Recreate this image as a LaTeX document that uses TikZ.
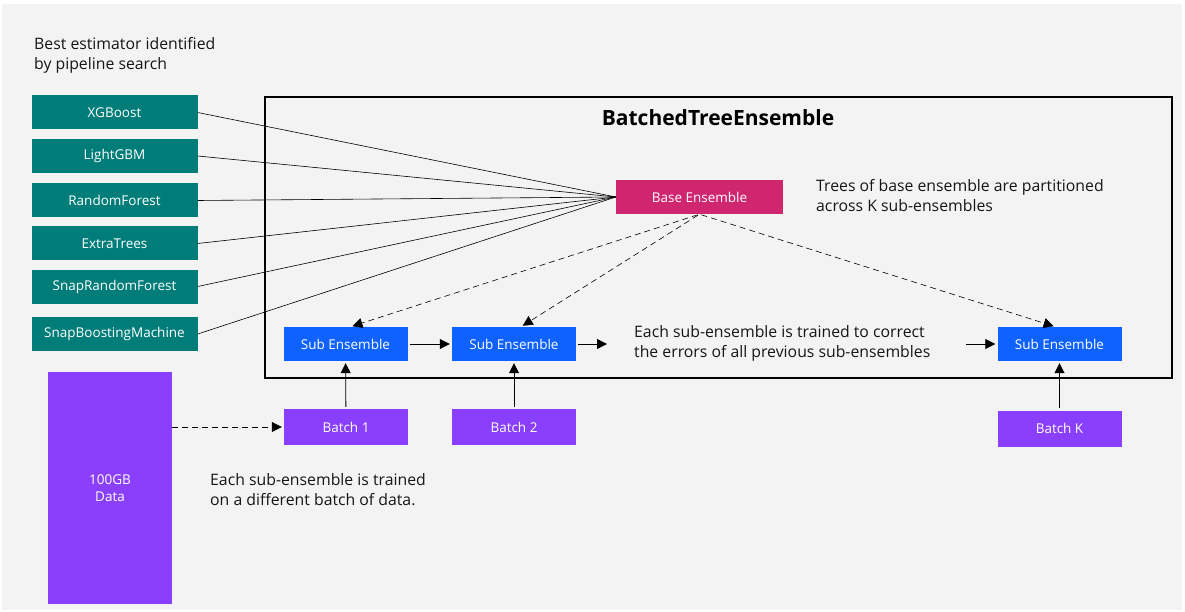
\documentclass[tikz,border=0pt]{standalone}
\usepackage{fontspec}
\setmainfont{Open Sans}
\usetikzlibrary{arrows.meta, positioning, calc}
\definecolor{PageGray}{RGB}{243,243,243}
\definecolor{EstTeal}{RGB}{0,125,121}
\definecolor{BaseMagenta}{RGB}{208,38,112}
\definecolor{SubBlue}{RGB}{15,98,254}
\definecolor{BatchPurple}{RGB}{138,63,252}
\definecolor{NoteGray}{RGB}{22,22,22}

\begin{document}
\begin{tikzpicture}[x=1pt, y=-1pt,
    box/.style={text=white, inner sep=0pt, minimum height=34pt, font=\fontsize{13.5}{17}\selectfont},
    estimator/.style={box, fill=EstTeal, minimum width=166pt},
    baseens/.style={box, fill=BaseMagenta, minimum width=167pt},
    subens/.style={box, fill=SubBlue, minimum width=124pt},
    batch/.style={box, fill=BatchPurple, minimum width=124pt, minimum height=36pt},
    note/.style={text=NoteGray, align=left, anchor=west, inner sep=0pt, font=\fontsize{15.8}{20}\selectfont},
    arrow/.style={-{Triangle[length=10pt,width=10pt]}, thick, shorten <=2pt, shorten >=2pt},
    dasharrow/.style={arrow, semithick, dash pattern=on 6pt off 4pt}]
    % page
    \fill[white] (0,0) rectangle (1185,612);
    \fill[PageGray] (2,4) rectangle (1182,610);
    \node[note] (bestnote) at (34,55) {Best estimator identified\\by pipeline search};
    % candidate estimators
    \foreach \name/\yy [count=\i] in {XGBoost/112.5, LightGBM/156, RandomForest/200.5,
        ExtraTrees/243.5, SnapRandomForest/286.5, SnapBoostingMachine/334}
        \node[estimator] (est\i) at (114.5,\yy) {\name};
    % the ensemble frame
    \draw[line width=2pt] (265,97) rectangle (1172,378);
    \node[font=\bfseries\fontsize{21}{24}\selectfont] (title) at (718,118) {BatchedTreeEnsemble};
    \node[baseens] (base) at (699.5,197) {Base Ensemble};
    \node[note] (treesnote) at (816,196) {Trees of base ensemble are partitioned\\across K sub-ensembles};
    \foreach \i in {1,...,6}
        \draw[semithick] (est\i.east) -- (base.west);
    % sub ensembles
    \node[subens] (sub1) at (345.5,344) {Sub Ensemble};
    \node[subens] (sub2) at (514,344) {Sub Ensemble};
    \node[subens] (subK) at (1059.5,344) {Sub Ensemble};
    \coordinate (gapL) at (609,344);
    \coordinate (gapR) at (966,344);
    \node[note] (corrnote) at (634,343) {Each sub-ensemble is trained to correct\\the errors of all previous sub-ensembles};
    \draw[arrow] (sub1) -- (sub2);
    \draw[arrow] (sub2) -- (gapL);
    \draw[arrow, shorten <=0pt] (gapR) -- (subK);
    \foreach \s/\dx in {sub1/5, sub2/7, subK/-4}
        \draw[dasharrow] (base.south) -- ($(\s.north)+(\dx,0)$);
    % data and batches
    \node[box, fill=BatchPurple, minimum width=124pt, minimum height=232pt, align=center] (data) at (110,488) {100GB\\Data};
    \node[batch] (batch1) at (346,427) {Batch 1};
    \node[batch] (batch2) at (514,427) {Batch 2};
    \node[batch] (batchK) at (1059.5,428.5) {Batch K};
    \foreach \b/\s in {batch1/sub1, batch2/sub2, batchK/subK}
        \draw[arrow] (\b) -- (\s);
    \draw[dasharrow, shorten <=0pt] (data.east |- batch1.west) -- (batch1.west);
    \node[note] (batchnote) at (210,490) {Each sub-ensemble is trained\\on a different batch of data.};
\end{tikzpicture}
\end{document}
